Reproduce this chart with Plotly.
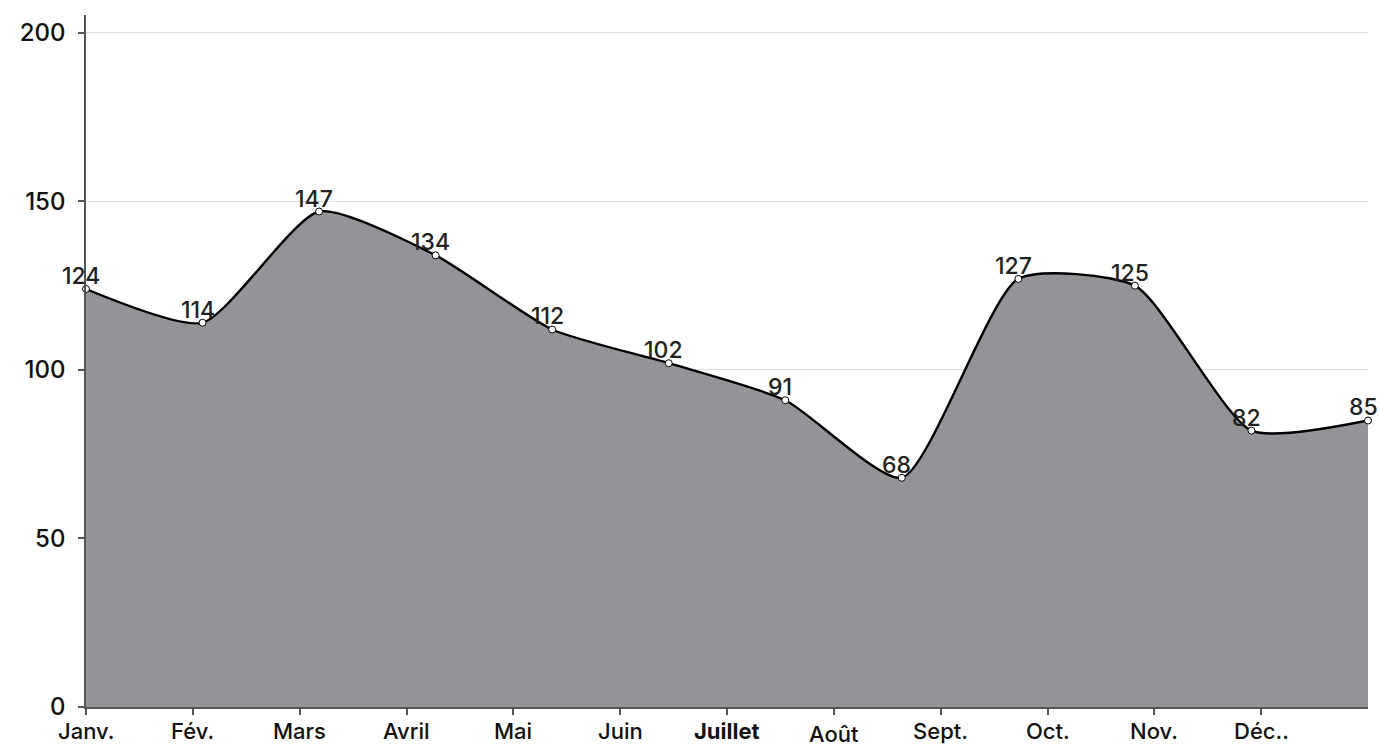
import plotly.graph_objects as go

# Monthly values and axis labels
months = ["Janv.", "Fév.", "Mars", "Avril", "Mai", "Juin", "Juillet", "Août",
          "Sept.", "Oct.", "Nov.", "Déc.."]
values = [124, 114, 147, 134, 112, 102, 91, 68, 127, 125, 82, 85]
y_ticks = [0, 50, 100, 150, 200]

n = len(values)
x_pts = list(range(n))
# month ticks divide the span into 12 equal bands
x_ticks = [i * (n - 1) / len(months) for i in range(len(months))]

FONT = "Inter, Liberation Sans, Arial, sans-serif"

fig = go.Figure()
fig.add_trace(go.Scatter(
    x=x_pts, y=values,
    mode="lines+markers",
    line=dict(color="#000000", width=2.4, shape="spline", smoothing=0.6),
    fill="tozeroy", fillcolor="#949498",
    marker=dict(size=7, color="#ffffff", line=dict(color="#000000", width=1)),
    cliponaxis=False,
    hoverinfo="skip",
    showlegend=False,
))

# value labels sitting just above each point
for xv, v in zip(x_pts, values):
    fig.add_annotation(
        x=xv, y=v, xref="x", yref="y",
        text=str(v), showarrow=False,
        yanchor="bottom", yshift=-3, xshift=-5,
        font=dict(family=FONT, size=23, color="#222222", weight=500),
    )

# month labels below the axis
for xv, m in zip(x_ticks, months):
    bold = m == "Juillet"
    fig.add_annotation(
        x=xv, y=0, xref="x", yref="paper",
        text=m, showarrow=False,
        yanchor="top", yshift=-12 if m == "Août" else -9,
        font=dict(family=FONT, size=22, color="#111111",
                  weight=700 if bold else 500),
    )

fig.update_layout(
    width=1379, height=746,
    margin=dict(l=86, r=11, t=15, b=39),
    paper_bgcolor="#ffffff", plot_bgcolor="#ffffff",
    xaxis=dict(
        range=[0, n - 1], tickvals=x_ticks, ticktext=[""] * len(months),
        showgrid=False, zeroline=False,
        showline=True, linecolor="#555555", linewidth=1.5,
        ticks="outside", ticklen=6, tickcolor="#555555", tickwidth=1.5,
        fixedrange=True,
    ),
    yaxis=dict(
        range=[0, 205.3], tickvals=y_ticks,
        showgrid=True, gridcolor="#dddddd", gridwidth=1,
        zeroline=False,
        showline=True, linecolor="#555555", linewidth=1.5,
        ticks="outside", ticklen=6, tickcolor="#555555", tickwidth=1.5,
        ticklabelstandoff=8,
        tickfont=dict(family=FONT, size=24, color="#111111", weight=500),
        fixedrange=True,
    ),
)

fig.write_html("out.html")
